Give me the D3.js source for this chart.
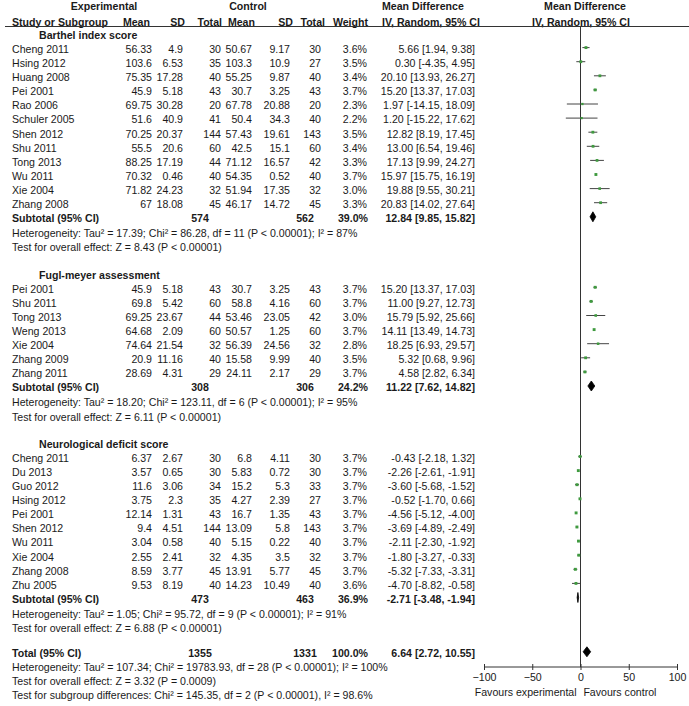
<!DOCTYPE html>
<html>
<head>
<meta charset="utf-8">
<script src="https://cdn.jsdelivr.net/npm/d3@7"></script>
<style>
  html, body { margin: 0; padding: 0; background: #fff; }
  svg text { font-family: "Liberation Sans", Arial, Helvetica, sans-serif; font-size: 10.6px; fill: #1a1a1a; }
  svg text.b { font-weight: bold; }
</style>
</head>
<body>
<svg id="chart" width="689" height="706"></svg>
<script>
// ---------- DATA ----------
// [study, expMean, expSD, expN, ctlMean, ctlSD, ctlN, weight%, MD, lower, upper]
const barthelRows = [
  ["Cheng 2011", 56.33, 4.9, 30, 50.67, 9.17, 30, 3.6, 5.66, 1.94, 9.38],
  ["Hsing 2012", 103.6, 6.53, 35, 103.3, 10.9, 27, 3.5, 0.30, -4.35, 4.95],
  ["Huang 2008", 75.35, 17.28, 40, 55.25, 9.87, 40, 3.4, 20.10, 13.93, 26.27],
  ["Pei 2001", 45.9, 5.18, 43, 30.7, 3.25, 43, 3.7, 15.20, 13.37, 17.03],
  ["Rao 2006", 69.75, 30.28, 20, 67.78, 20.88, 20, 2.3, 1.97, -14.15, 18.09],
  ["Schuler 2005", 51.6, 40.9, 41, 50.4, 34.3, 40, 2.2, 1.20, -15.22, 17.62],
  ["Shen 2012", 70.25, 20.37, 144, 57.43, 19.61, 143, 3.5, 12.82, 8.19, 17.45],
  ["Shu 2011", 55.5, 20.6, 60, 42.5, 15.1, 60, 3.4, 13.00, 6.54, 19.46],
  ["Tong 2013", 88.25, 17.19, 44, 71.12, 16.57, 42, 3.3, 17.13, 9.99, 24.27],
  ["Wu 2011", 70.32, 0.46, 40, 54.35, 0.52, 40, 3.7, 15.97, 15.75, 16.19],
  ["Xie 2004", 71.82, 24.23, 32, 51.94, 17.35, 32, 3.0, 19.88, 9.55, 30.21],
  ["Zhang 2008", 67, 18.08, 45, 46.17, 14.72, 45, 3.3, 20.83, 14.02, 27.64]
];
const fuglRows = [
  ["Pei 2001", 45.9, 5.18, 43, 30.7, 3.25, 43, 3.7, 15.20, 13.37, 17.03],
  ["Shu 2011", 69.8, 5.42, 60, 58.8, 4.16, 60, 3.7, 11.00, 9.27, 12.73],
  ["Tong 2013", 69.25, 23.67, 44, 53.46, 23.05, 42, 3.0, 15.79, 5.92, 25.66],
  ["Weng 2013", 64.68, 2.09, 60, 50.57, 1.25, 60, 3.7, 14.11, 13.49, 14.73],
  ["Xie 2004", 74.64, 21.54, 32, 56.39, 24.56, 32, 2.8, 18.25, 6.93, 29.57],
  ["Zhang 2009", 20.9, 11.16, 40, 15.58, 9.99, 40, 3.5, 5.32, 0.68, 9.96],
  ["Zhang 2011", 28.69, 4.31, 29, 24.11, 2.17, 29, 3.7, 4.58, 2.82, 6.34]
];
const neuroRows = [
  ["Cheng 2011", 6.37, 2.67, 30, 6.8, 4.11, 30, 3.7, -0.43, -2.18, 1.32],
  ["Du 2013", 3.57, 0.65, 30, 5.83, 0.72, 30, 3.7, -2.26, -2.61, -1.91],
  ["Guo 2012", 11.6, 3.06, 34, 15.2, 5.3, 33, 3.7, -3.60, -5.68, -1.52],
  ["Hsing 2012", 3.75, 2.3, 35, 4.27, 2.39, 27, 3.7, -0.52, -1.70, 0.66],
  ["Pei 2001", 12.14, 1.31, 43, 16.7, 1.35, 43, 3.7, -4.56, -5.12, -4.00],
  ["Shen 2012", 9.4, 4.51, 144, 13.09, 5.8, 143, 3.7, -3.69, -4.89, -2.49],
  ["Wu 2011", 3.04, 0.58, 40, 5.15, 0.22, 40, 3.7, -2.11, -2.30, -1.92],
  ["Xie 2004", 2.55, 2.41, 32, 4.35, 3.5, 32, 3.7, -1.80, -3.27, -0.33],
  ["Zhang 2008", 8.59, 3.77, 45, 13.91, 5.77, 45, 3.7, -5.32, -7.33, -3.31],
  ["Zhu 2005", 9.53, 8.19, 40, 14.23, 10.49, 40, 3.6, -4.70, -8.82, -0.58]
];
const subgroupNames = ["Barthel index score", "Fugl-meyer assessment", "Neurological deficit score"];
// [expN, ctlN, weight%, MD, lower, upper]
const subtotals = [
  [574, 562, 39.0, 12.84, 9.85, 15.82],
  [308, 306, 24.2, 11.22, 7.62, 14.82],
  [473, 463, 36.9, -2.71, -3.48, -1.94]
];
const heterogeneityTexts = [
  "Heterogeneity: Tau\u00b2 = 17.39; Chi\u00b2 = 86.28, df = 11 (P < 0.00001); I\u00b2 = 87%",
  "Heterogeneity: Tau\u00b2 = 18.20; Chi\u00b2 = 123.11, df = 6 (P < 0.00001); I\u00b2 = 95%",
  "Heterogeneity: Tau\u00b2 = 1.05; Chi\u00b2 = 95.72, df = 9 (P < 0.00001); I\u00b2 = 91%"
];
const overallEffectTexts = [
  "Test for overall effect: Z = 8.43 (P < 0.00001)",
  "Test for overall effect: Z = 6.11 (P < 0.00001)",
  "Test for overall effect: Z = 6.88 (P < 0.00001)"
];
const totalRow = [1355, 1331, 100.0, 6.64, 2.72, 10.55];
const totalTexts = [
  "Heterogeneity: Tau\u00b2 = 107.34; Chi\u00b2 = 19783.93, df = 28 (P < 0.00001); I\u00b2 = 100%",
  "Test for overall effect: Z = 3.32 (P = 0.0009)",
  "Test for subgroup differences: Chi\u00b2 = 145.35, df = 2 (P < 0.00001), I\u00b2 = 98.6%"
];
const axisTicks = [-100, -50, 0, 50, 100];
const axisDomain = [-100, 100];
const favourLabels = ["Favours experimental", "Favours control"];

// ---------- LAYOUT ----------
const svg = d3.select("#chart");
const col = { study: 12, section: 39, eMean: 152, eSD: 183, eN: 221, eNsub: 200,
              cMean: 252, cSD: 290, cN: 321, cNsub: 305, weight: 367, ci: 475, ciHead: 382 };
const rowStep = 14.1;
const yRow = d3.scaleLinear().domain([0, 1]).range([35, 35 + rowStep]);
const x = d3.scaleLinear().domain(axisDomain).range([484, 677]);
const BL = 3.8; // baseline offset from row centre

function txt(xp, yc, s, anchor, bold) {
  svg.append("text").attr("x", xp).attr("y", yc + BL)
    .attr("text-anchor", anchor || "start")
    .attr("class", bold ? "b" : null).text(s);
}
const f2 = d => d.toFixed(2);
const ciStr = (m, l, u) => `${f2(m)} [${f2(l)}, ${f2(u)}]`;

// header
const h1 = 6, h2 = 22;
txt(104, h1, "Experimental", "middle", true);
txt(248, h1, "Control", "middle", true);
txt(col.ciHead, h1, "Mean Difference", "start", true);
txt(585, h1, "Mean Difference", "middle", true);
txt(col.study, h2, "Study or Subgroup", "start", true);
txt(col.eMean - 2, h2, "Mean", "end", true);
txt(col.eSD + 2, h2, "SD", "end", true);
txt(col.eN + 1, h2, "Total", "end", true);
txt(col.cMean + 3, h2, "Mean", "end", true);
txt(col.cSD + 3, h2, "SD", "end", true);
txt(col.cN + 4, h2, "Total", "end", true);
txt(col.weight + 1, h2, "Weight", "end", true);
txt(col.ciHead, h2, "IV, Random, 95% CI", "start", true);
txt(581, h2, "IV, Random, 95% CI", "middle", true);

const headLineY = 26.5;
svg.append("line").attr("x1", 5).attr("x2", 689).attr("y1", headLineY).attr("y2", headLineY)
  .attr("stroke", "#333").attr("stroke-width", 1);

// build rows
const groups = [barthelRows, fuglRows, neuroRows];
let idx = 0;
const studyMarks = [], diamonds = [];
groups.forEach((rows, g) => {
  txt(col.section, yRow(idx), subgroupNames[g], "start", true);
  idx++;
  rows.forEach(r => {
    const y = yRow(idx);
    txt(col.study, y, r[0]);
    txt(col.eMean, y, String(r[1]), "end");
    txt(col.eSD, y, String(r[2]), "end");
    txt(col.eN, y, String(r[3]), "end");
    txt(col.cMean, y, String(r[4]), "end");
    txt(col.cSD, y, String(r[5]), "end");
    txt(col.cN, y, String(r[6]), "end");
    txt(col.weight, y, r[7].toFixed(1) + "%", "end");
    txt(col.ci, y, ciStr(r[8], r[9], r[10]), "end");
    studyMarks.push({ y, w: r[7], md: r[8], lo: r[9], hi: r[10] });
    idx++;
  });
  const s = subtotals[g];
  let y = yRow(idx);
  txt(col.study, y, "Subtotal (95% CI)", "start", true);
  txt(col.eNsub, y, String(s[0]), "middle", true);
  txt(col.cNsub, y, String(s[1]), "middle", true);
  txt(col.weight + 1, y, s[2].toFixed(1) + "%", "end", true);
  txt(col.ci, y, ciStr(s[3], s[4], s[5]), "end", true);
  diamonds.push({ y, md: s[3], lo: s[4], hi: s[5] });
  idx++;
  txt(col.study, yRow(idx) + 1, heterogeneityTexts[g]); idx++;
  txt(col.study, yRow(idx) + 1, overallEffectTexts[g]); idx++;
  idx++; // blank row
});
idx -= 0.15;
{
  const y = yRow(idx);
  txt(col.study, y, "Total (95% CI)", "start", true);
  txt(col.eNsub, y, String(totalRow[0]), "middle", true);
  txt(col.cNsub, y, String(totalRow[1]), "middle", true);
  txt(col.weight + 1, y, totalRow[2].toFixed(1) + "%", "end", true);
  txt(col.ci, y, ciStr(totalRow[3], totalRow[4], totalRow[5]), "end", true);
  diamonds.push({ y, md: totalRow[3], lo: totalRow[4], hi: totalRow[5] });
  idx++;
  totalTexts.forEach(t => { txt(col.study, yRow(idx), t); idx++; });
}

// ---------- PLOT ----------
const axisY = 667;
svg.append("line").attr("x1", x(0)).attr("x2", x(0)).attr("y1", headLineY).attr("y2", axisY)
  .attr("stroke", "#333").attr("stroke-width", 1);

const marks = svg.append("g");
marks.selectAll("line.ci").data(studyMarks).join("line")
  .attr("class", "ci")
  .attr("x1", d => x(d.lo)).attr("x2", d => x(d.hi))
  .attr("y1", d => d.y - 1.5).attr("y2", d => d.y - 1.5)
  .attr("stroke", "#444").attr("stroke-width", 1);
marks.selectAll("rect.pt").data(studyMarks).join("rect")
  .attr("class", "pt")
  .attr("x", d => x(d.md) - 0.75 * Math.sqrt(d.w))
  .attr("y", d => d.y - 1.5 - 0.75 * Math.sqrt(d.w))
  .attr("width", d => 1.5 * Math.sqrt(d.w))
  .attr("height", d => 1.5 * Math.sqrt(d.w))
  .attr("fill", "#3f9a3f");

marks.selectAll("path.dia").data(diamonds).join("path")
  .attr("class", "dia")
  .attr("d", d => {
    const yc = d.y - 1.5;
    return `M${x(d.lo)},${yc} L${x(d.md)},${yc - 5} L${x(d.hi)},${yc} L${x(d.md)},${yc + 5} Z`;
  })
  .attr("fill", "#000").attr("stroke", "#000").attr("stroke-width", 0.8);

// axis
const ax = svg.append("g").attr("transform", `translate(0,${axisY})`)
  .call(d3.axisBottom(x).tickValues(axisTicks).tickSize(0).tickPadding(8).tickFormat(d3.format("d")));
ax.select(".domain").attr("stroke", "#333").attr("d", `M${x(axisDomain[0])},0H${x(axisDomain[1])}`);
ax.selectAll(".tick text").attr("font-family", "Liberation Sans, Arial, sans-serif")
  .attr("font-size", 10.6).attr("fill", "#1a1a1a").attr("dy", "0.55em");
ax.selectAll(".tick").append("line").attr("y1", -3).attr("y2", 3).attr("stroke", "#333");

txt(x(-4), 692, favourLabels[0], "end");
txt(x(3), 692, favourLabels[1], "start");
</script>
</body>
</html>
